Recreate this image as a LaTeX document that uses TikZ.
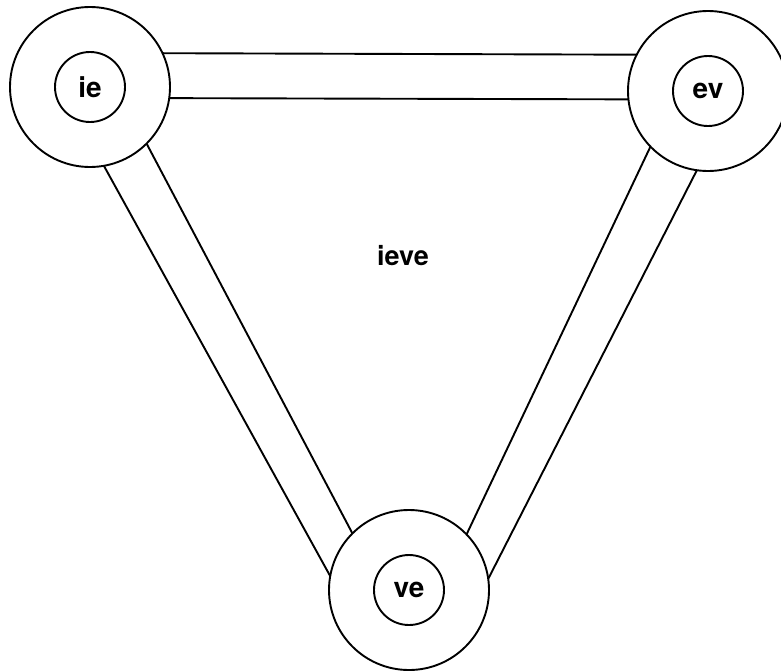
\documentclass[tikz,border=0pt]{standalone}
\usepackage{fontspec}
\setmainfont{TeX Gyre Heros}
\begin{document}
\begin{tikzpicture}[x=1pt,y=-1pt,
  outer/.style={circle,draw,line width=1.9pt,minimum size=160pt,inner sep=0pt,outer sep=0pt},
  inner/.style={circle,draw,line width=1.9pt,minimum size=70pt,inner sep=0pt,outer sep=0pt,
    font=\fontsize{28}{32}\selectfont\bfseries},
  band/.style={line width=1.9pt},
  lab/.style={font=\fontsize{27}{32}\selectfont\bfseries}]
\useasboundingbox (0,0) rectangle (781,670);
\node[outer] (ieO) at (90,87) {};
\node[inner] (ie) at (90,87) {ie};
\node[outer] (evO) at (708,91) {};
\node[inner] (ev) at (708,91) {ev};
\node[outer] (veO) at (409,590) {};
\node[inner] (ve) at (409,590) {ve};
\node[lab] (ieve) at (403,256) {ieve};
% top band
\draw[band] (ieO.25) -- (evO.153.2);
\draw[band] (ieO.-8.6) -- (evO.186.5);
% left band
\draw[band] (ieO.-45) -- (veO.135);
\draw[band] (ieO.-80.9) -- (veO.170.9);
% right band
\draw[band] (evO.224.5) -- (veO.44.5);
\draw[band] (evO.262) -- (veO.8.5);
\end{tikzpicture}
\end{document}
